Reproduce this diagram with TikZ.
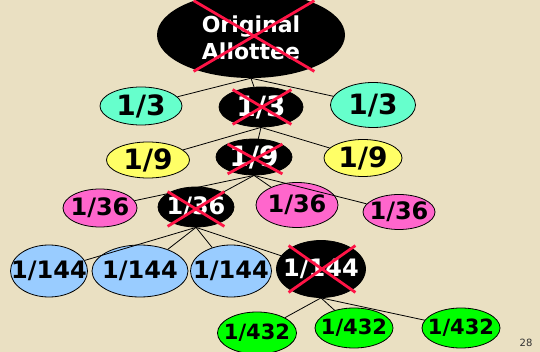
\documentclass[tikz,border=0pt]{standalone}
\usepackage{fontspec}
\setmainfont{DejaVu Sans}
\usetikzlibrary{shapes.geometric,shapes.misc}
\newcommand\bigger{\fontsize{28}{28}\selectfont}
\newcommand\smaller{\fontsize{21}{21}\selectfont}

\begin{document}
\begin{tikzpicture}[x=1pt,y=-1pt,
  ttext/.style={font=\bfseries\fontsize{24}{24}\selectfont,inner sep=0pt},
  share/.style={ellipse,draw=black,line width=0.8pt,inner sep=0pt,
    label={[ttext]center:#1}},
  gone/.style={share={\textcolor{white}{#1}},fill=black},
  xmark/.style={cross out,draw=crossColor,line width=2.8pt,inner sep=0pt},
  link/.style={draw=black,line width=0.8pt}]
\definecolor{fillColor}{RGB}{234,224,194}
\definecolor{crossColor}{RGB}{255,20,70}
\definecolor{thirdColor}{RGB}{102,255,204}
\definecolor{ninthColor}{RGB}{255,255,102}
\definecolor{sixColor}{RGB}{255,102,204}
\definecolor{blueColor}{RGB}{153,204,255}
\definecolor{greenColor}{RGB}{0,255,0}
\path[use as bounding box,fill=fillColor] (0,0) rectangle (540,352);
\clip (0,0) rectangle (540,352);

% root
\node[ellipse,fill=black,inner sep=0pt,minimum width=188,minimum height=86,
  label={[text=white,align=center,inner sep=0pt,yshift=-3pt,
  font=\bfseries\fontsize{22}{27}\selectfont]center:Original\\Allottee}] (root) at (251,35) {};

% thirds
\node[share={\bigger 1/3},fill=thirdColor,minimum width=82,minimum height=38] (t1) at (141,106) {};
\node[gone={\bigger 1/3},minimum width=84,minimum height=40] (t2) at (261,107) {};
\node[share={\bigger 1/3},fill=thirdColor,minimum width=85,minimum height=45] (t3) at (373,105) {};

% ninths
\node[share={\bigger 1/9},fill=ninthColor,minimum width=83,minimum height=36] (n1) at (148,160) {};
\node[gone={\bigger 1/9},minimum width=76,minimum height=36] (n2) at (254,157) {};
\node[share={\bigger 1/9},fill=ninthColor,minimum width=78,minimum height=37] (n3) at (363,158) {};

% thirty-sixths
\node[share=1/36,fill=sixColor,minimum width=74,minimum height=38] (s1) at (100,208) {};
\node[gone=1/36,minimum width=76,minimum height=40] (s2) at (196,207) {};
\node[share=1/36,fill=sixColor,minimum width=82,minimum height=45] (s3) at (297,205) {};
\node[share=1/36,fill=sixColor,minimum width=72,minimum height=35] (s4) at (399,212) {};

% 144ths
\node[share=1/144,fill=blueColor,minimum width=77,minimum height=52] (f1) at (49,271) {};
\node[share=1/144,fill=blueColor,minimum width=96,minimum height=52] (f2) at (140,271) {};
\node[share=1/144,fill=blueColor,minimum width=81,minimum height=52] (f3) at (231,271) {};
\node[gone=1/144,minimum width=89,minimum height=57] (f4) at (321,269) {};

% 432nds
\node[share={\smaller 1/432},fill=greenColor,minimum width=79,minimum height=42] (g1) at (257,333) {};
\node[share={\smaller 1/432},fill=greenColor,minimum width=78,minimum height=40] (g2) at (354,328) {};
\node[share={\smaller 1/432},fill=greenColor,minimum width=78,minimum height=40] (g3) at (461,328) {};

% links
\foreach \c in {t1,t2,t3} \draw[link] (root.south) -- (\c);
\foreach \c in {n1,n2,n3} \draw[link] (t2.south) -- (\c);
\foreach \c in {s1,s2,s3,s4} \draw[link] (n2.south) -- (\c);
\foreach \c in {f1,f2,f3,f4} \draw[link] (s2.south) -- (\c);
\foreach \c in {g1,g2,g3} \draw[link] (f4.south) -- (\c);

% crossed out
\node[xmark,minimum width=118,minimum height=68] (xroot) at (254,36) {};
\node[xmark,minimum width=56,minimum height=32] (xt2) at (262,107) {};
\node[xmark,minimum width=52,minimum height=27] (xn2) at (255,159) {};
\node[xmark,minimum width=54,minimum height=32] (xs2) at (196,209) {};
\node[xmark,minimum width=64,minimum height=44] (xf4) at (322,269) {};

\node[text=black!80,font=\fontsize{10}{10}\selectfont] (page) at (526,343) {28};
\end{tikzpicture}
\end{document}
